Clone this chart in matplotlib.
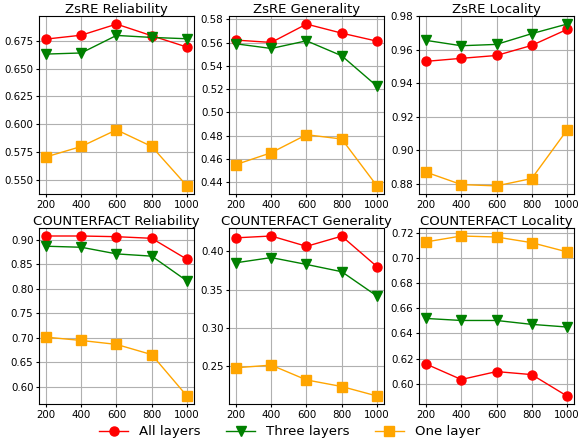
import matplotlib
matplotlib.use("Agg")
import matplotlib.pyplot as plt
from matplotlib.ticker import MultipleLocator

x = [200, 400, 600, 800, 1000]

titles = ["ZsRE Reliability", "ZsRE Generality", "ZsRE Locality",
          "COUNTERFACT Reliability", "COUNTERFACT Generality", "COUNTERFACT Locality"]

all_layers = [
    [0.6765, 0.680, 0.690, 0.6795, 0.6693],
    [0.5622, 0.5602, 0.576, 0.5682, 0.5613],
    [0.953, 0.9548, 0.9565, 0.9625, 0.972],
    [0.9074, 0.9074, 0.906, 0.9027, 0.860],
    [0.4176, 0.420, 0.4065, 0.4198, 0.380],
    [0.6157, 0.6034, 0.6097, 0.6073, 0.5903],
]
three_layers = [
    [0.663, 0.664, 0.6798, 0.678, 0.6768],
    [0.559, 0.555, 0.5616, 0.5487, 0.5225],
    [0.9655, 0.9623, 0.9631, 0.9695, 0.9752],
    [0.8866, 0.8845, 0.871, 0.8664, 0.816],
    [0.385, 0.3918, 0.3828, 0.3733, 0.3415],
    [0.6519, 0.6503, 0.6503, 0.6472, 0.6451],
]
one_layer = [
    [0.5704, 0.5798, 0.5948, 0.5798, 0.5443],
    [0.455, 0.4652, 0.4807, 0.477, 0.4366],
    [0.887, 0.8796, 0.8788, 0.8832, 0.912],
    [0.7016, 0.6948, 0.6868, 0.666, 0.5818],
    [0.2477, 0.2512, 0.2318, 0.2232, 0.2108],
    [0.7127, 0.7174, 0.7166, 0.7121, 0.7048],
]

series_names = ["All layers", "Three layers", "One layer"]
ytick_steps = [0.025, 0.02, 0.02, 0.05, 0.05, 0.02]

W, H = 579, 443
fig = plt.figure(figsize=(W / 100, H / 100), dpi=100)

lefts = [39, 229, 419]
width = 155
tops = [16, 228]
heights = [178, 176]

handles = None
for i in range(6):
    r, c = divmod(i, 3)
    l = lefts[c]
    t = tops[r]
    h = heights[r]
    ax = fig.add_axes([l / W, 1 - (t + h) / H, width / W, h / H])
    l1, = ax.plot(x, all_layers[i], color="red", marker="o", markersize=6.5, linewidth=1, label=series_names[0])
    l2, = ax.plot(x, three_layers[i], color="green", marker="v", markersize=6.5, linewidth=1, label=series_names[1])
    l3, = ax.plot(x, one_layer[i], color="orange", marker="s", markersize=6.5, linewidth=1, label=series_names[2])
    handles = [l1, l2, l3]
    ax.set_xticks(x)
    ax.yaxis.set_major_locator(MultipleLocator(ytick_steps[i]))
    ax.grid(True, color="#b0b0b0", linewidth=0.8)
    ax.set_title(titles[i], fontsize=9.5, pad=2)
    ax.tick_params(labelsize=7.4, length=2.5, pad=1.5)

fig.legend(handles, series_names, loc="center", bbox_to_anchor=(0.5, 1 - 432 / H),
           ncol=3, frameon=False, fontsize=9.6, handlelength=2.2, columnspacing=1.9)

fig.savefig("out.png", dpi=100)
